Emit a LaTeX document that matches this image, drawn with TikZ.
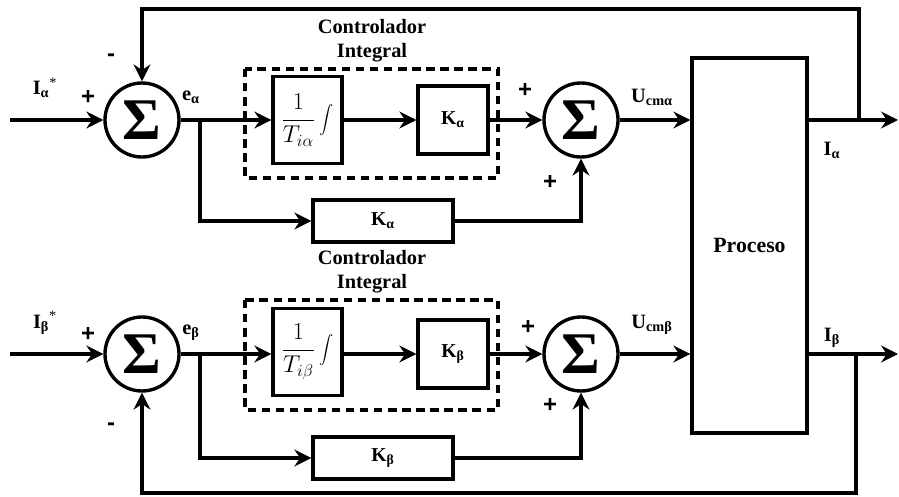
\documentclass[tikz,border=0pt]{standalone}
\usepackage{fontspec}
\setmainfont{Liberation Serif}[BoldFont={Liberation Serif Bold}]
\newfontfamily\signfont{Liberation Sans}
\usetikzlibrary{arrows.meta}

\begin{document}
\begin{tikzpicture}[
  x=0.025cm, y=-0.025cm,
  line width=2.4pt,
  summer/.style={draw, circle, minimum size=1.85cm, inner sep=0pt,
                 font=\fontsize{42}{42}\selectfont\bfseries},
  block/.style={draw, inner sep=0pt, font=\fontsize{14}{16}\selectfont\bfseries},
  tag/.style={inner sep=0pt, font=\fontsize{14.5}{17}\selectfont\bfseries},
  sign/.style={inner sep=0pt, font=\fontsize{17}{17}\selectfont\signfont\bfseries},
  group/.style={draw, dash pattern=on 6pt off 4pt},
  arrow/.style={-{Stealth[length=12pt, width=12pt, inset=4pt]}}
]
  \useasboundingbox (0,0) rectangle (899,497);

  % alpha
  \node[summer] (sumA) at (142,120) {Σ};
  \node[block, minimum width=1.725cm, minimum height=2.175cm] (intA) at (307.5,120)
    {\LARGE$\displaystyle\frac{1}{T_{i\alpha}}\int$};
  \node[block, minimum width=1.75cm, minimum height=1.7cm] (kA) at (453,120) {K\textsubscript{α}};
  \node[block, minimum width=3.5cm, minimum height=1.05cm] (pA) at (383,221) {K\textsubscript{α}};
  \node[summer] (sumB) at (581,120) {Σ};
  \draw[group] (245,69) rectangle (498,178);
  \node[tag, align=center] (ciA) at (372,41) {Controlador\\Integral};

  % beta
  \node[summer] (sumC) at (142,354) {Σ};
  \node[block, minimum width=1.725cm, minimum height=2.175cm] (intB) at (307.5,352)
    {\LARGE$\displaystyle\frac{1}{T_{i\beta}}\int$};
  \node[block, minimum width=1.75cm, minimum height=1.7cm] (kB) at (453,354) {K\textsubscript{β}};
  \node[block, minimum width=3.5cm, minimum height=1.05cm] (pB) at (383,458) {K\textsubscript{β}};
  \node[summer] (sumD) at (581,354) {Σ};
  \draw[group] (245,300) rectangle (498,410);
  \node[tag, align=center] (ciB) at (372,272) {Controlador\\Integral};

  \node[block, minimum width=2.875cm, minimum height=9.375cm] (proc) at (749.5,245.5)
    {\fontsize{15.5}{16}\selectfont Proceso};

  % labels
  \node[tag] (refA) at (45,88) {I\textsubscript{α}\textsuperscript{\normalfont *}};
  \node[sign] at (88,97) {+};
  \node[sign] at (111,58) {-};
  \node[tag] (eA) at (191,97) {e\textsubscript{α}};
  \node[sign] at (525,90) {+};
  \node[sign] at (550,182) {+};
  \node[tag] (uA) at (652,97) {U\textsubscript{cmα}};
  \node[tag] (yA) at (832,150) {I\textsubscript{α}};

  \node[tag] (refB) at (45,323) {I\textsubscript{β}\textsuperscript{\normalfont *}};
  \node[sign] at (88,334) {+};
  \node[sign] at (111,427) {-};
  \node[tag] (eB) at (191,333) {e\textsubscript{β}};
  \node[sign] at (528,327) {+};
  \node[sign] at (550,405) {+};
  \node[tag] (uB) at (652,325) {U\textsubscript{cmβ}};
  \node[tag] (yB) at (832,338) {I\textsubscript{β}};

  \coordinate (inA) at (10,120);
  \coordinate (brA) at (200,120);
  \coordinate (fbA) at (859,120);
  \coordinate (topA) at (859,9);
  \coordinate (outA) at (898,120);
  \coordinate (inB) at (10,354);
  \coordinate (brB) at (200,354);
  \coordinate (fbB) at (856,354);
  \coordinate (botB) at (856,493);
  \coordinate (outB) at (898,354);

  \draw[arrow] (inA) -- (sumA);
  \draw[arrow] (sumA) -- (intA);
  \draw[arrow] (intA) -- (kA);
  \draw[arrow] (kA) -- (sumB);
  \draw[arrow] (brA) |- (pA);
  \draw[arrow] (pA) -| (sumB);
  \draw[arrow] (sumB) -- (sumB -| proc.west);
  \draw[arrow] (outA -| proc.east) -- (outA);
  \draw[arrow] (fbA) -- (topA) -| (sumA);

  \draw[arrow] (inB) -- (sumC);
  \draw[arrow] (sumC) -- (intB.west |- sumC);
  \draw[arrow] (intB.east |- kB) -- (kB);
  \draw[arrow] (kB) -- (sumD);
  \draw[arrow] (brB) |- (pB);
  \draw[arrow] (pB) -| (sumD);
  \draw[arrow] (sumD) -- (sumD -| proc.west);
  \draw[arrow] (outB -| proc.east) -- (outB);
  \draw[arrow] (fbB) -- (botB) -| (sumC);
\end{tikzpicture}
\end{document}
